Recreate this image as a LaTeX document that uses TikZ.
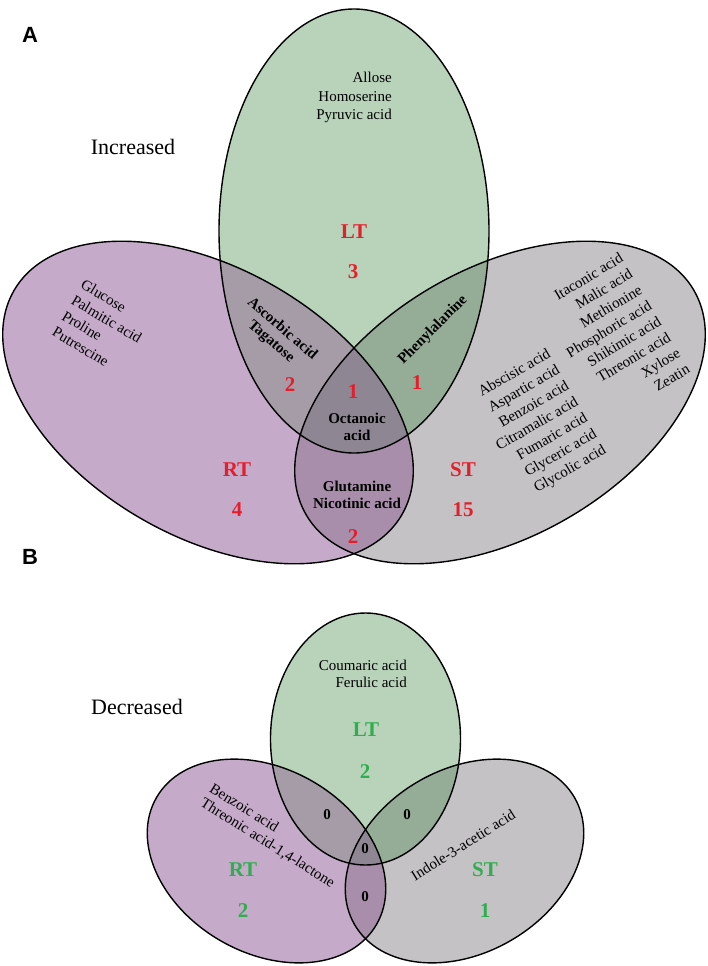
\documentclass[tikz,border=0pt]{standalone}
\usepackage{fontspec}
\setmainfont{Liberation Serif}
\setsansfont{Liberation Sans}

\definecolor{ltfill}{HTML}{B8D3BA}
\definecolor{rtfill}{HTML}{C6AACA}
\definecolor{stfill}{HTML}{C4C2C4}
\definecolor{ltrtfill}{HTML}{A69CA8}
\definecolor{ltstfill}{HTML}{95AD97}
\definecolor{rtstfill}{HTML}{A88EAA}
\definecolor{allfill}{HTML}{8E8692}
\definecolor{upred}{HTML}{E41E2B}
\definecolor{downgreen}{HTML}{2EAE4E}

\tikzset{
  outline/.style={draw=black, line width=1.4pt},
  rtAturn/.style={rotate around={-30:(208,402.5)}},
  stAturn/.style={rotate around={30:(500,402.5)}},
  rtBturn/.style={rotate around={-30:(266.5,861)}},
  stBturn/.style={rotate around={30:(464.5,861)}},
  panel/.style={font=\fontsize{22}{24}\selectfont\sffamily\bfseries, inner sep=0pt},
  trend/.style={font=\fontsize{22}{24}\selectfont, inner sep=0pt},
  cmpd/.style={font=\fontsize{15}{18.5}\selectfont, inner sep=0pt},
  cmpdb/.style={font=\fontsize{15}{17}\selectfont\bfseries, inner sep=0pt, align=center},
  upset/.style={font=\fontsize{21}{24}\selectfont\bfseries, text=upred, inner sep=0pt},
  downset/.style={font=\fontsize{21}{24}\selectfont\bfseries, text=downgreen, inner sep=0pt},
  zero/.style={font=\fontsize{15}{17}\selectfont\bfseries, inner sep=0pt}
}

\begin{document}
\begin{tikzpicture}[x=1pt,y=-1pt]
\useasboundingbox[fill=white] (0,0) rectangle (708,966);

% A: increased
\fill[ltfill] (354,231) ellipse (135pt and 222pt);
\fill[rtfill, rtAturn] (208,402.5) ellipse (224pt and 134pt);
\fill[stfill, stAturn] (500,402.5) ellipse (224pt and 134pt);
\begin{scope}
  \clip[rtAturn] (208,402.5) ellipse (224pt and 134pt);
  \fill[ltrtfill] (354,231) ellipse (135pt and 222pt);
  \fill[rtstfill, stAturn] (500,402.5) ellipse (224pt and 134pt);
\end{scope}
\begin{scope}
  \clip (354,231) ellipse (135pt and 222pt);
  \fill[ltstfill, stAturn] (500,402.5) ellipse (224pt and 134pt);
\end{scope}
\begin{scope}
  \clip[rtAturn] (208,402.5) ellipse (224pt and 134pt);
  \clip (354,231) ellipse (135pt and 222pt);
  \fill[allfill, stAturn] (500,402.5) ellipse (224pt and 134pt);
\end{scope}
\draw[outline] (354,231) ellipse (135pt and 222pt);
\draw[outline, rtAturn] (208,402.5) ellipse (224pt and 134pt);
\draw[outline, stAturn] (500,402.5) ellipse (224pt and 134pt);

\node[panel] (labA) at (30,35) {A};
\node[trend] (incr) at (133,147) {Increased};
\node[cmpd, anchor=east, align=right] (ltAonly) at (392,97.5) {Allose\\Homoserine\\Pyruvic acid};
\node[upset] (ltAname) at (354,232) {LT};
\node[upset] (ltAnum) at (353,272) {3};
\node[cmpd, align=left, rotate=-31] (rtAonly) at (102,327) {Glucose\\Palmitic acid\\Proline\\Putrescine};
\node[upset] (rtAname) at (237,470) {RT};
\node[upset] (rtAnum) at (237,510) {4};
\node[cmpdb, rotate=-41] (ltrtA) at (276.5,335.5) {Ascorbic acid\\Tagatose};
\node[upset] (ltrtAnum) at (290,385) {2};
\node[cmpdb, rotate=45] (ltstA) at (433,330) {Phenylalanine};
\node[upset] (ltstAnum) at (417,383) {1};
\node[upset] (allAnum) at (353,392) {1};
\node[cmpdb] (allA) at (357,426.5) {Octanoic\\acid};
\node[cmpdb] (rtstA) at (357,495) {Glutamine\\Nicotinic acid};
\node[upset] (rtstAnum) at (353,537) {2};
\node[upset] (stAname) at (463,470) {ST};
\node[upset] (stAnum) at (463,510) {15};
\node[cmpd, anchor=east, align=right, rotate=31] (stAonly) at (655,312) {Itaconic acid\\Malic acid\\Methionine\\Phosphoric acid\\Shikimic acid\\Threonic acid\\Xylose\\Zeatin};
\node[cmpd, anchor=east, align=right, rotate=30] (stAmore) at (577.5,401.5) {Abscisic acid\\Aspartic acid\\Benzoic acid\\Citramalic acid\\Fumaric acid\\Glyceric acid\\Glycolic acid};

% B: decreased
\fill[ltfill] (365.5,739) ellipse (95pt and 126pt);
\fill[rtfill, rtBturn] (266.5,861) ellipse (127pt and 92pt);
\fill[stfill, stBturn] (464.5,861) ellipse (127pt and 92pt);
\begin{scope}
  \clip[rtBturn] (266.5,861) ellipse (127pt and 92pt);
  \fill[ltrtfill] (365.5,739) ellipse (95pt and 126pt);
  \fill[rtstfill, stBturn] (464.5,861) ellipse (127pt and 92pt);
\end{scope}
\begin{scope}
  \clip (365.5,739) ellipse (95pt and 126pt);
  \fill[ltstfill, stBturn] (464.5,861) ellipse (127pt and 92pt);
\end{scope}
\begin{scope}
  \clip[rtBturn] (266.5,861) ellipse (127pt and 92pt);
  \clip (365.5,739) ellipse (95pt and 126pt);
  \fill[allfill, stBturn] (464.5,861) ellipse (127pt and 92pt);
\end{scope}
\draw[outline] (365.5,739) ellipse (95pt and 126pt);
\draw[outline, rtBturn] (266.5,861) ellipse (127pt and 92pt);
\draw[outline, stBturn] (464.5,861) ellipse (127pt and 92pt);

\node[panel] (labB) at (30,557) {B};
\node[trend] (decr) at (137,707) {Decreased};
\node[cmpd, anchor=east, align=right, font=\fontsize{15}{17}\selectfont] (ltBonly) at (407,673.5) {Coumaric acid\\Ferulic acid};
\node[downset] (ltBname) at (366,730) {LT};
\node[downset] (ltBnum) at (365,772) {2};
\node[cmpd, align=left, rotate=-32, font=\fontsize{15}{17}\selectfont] (rtBonly) at (272,836) {Benzoic acid\\Threonic acid-1,4-lactone};
\node[downset] (rtBname) at (243,870) {RT};
\node[downset] (rtBnum) at (243,911) {2};
\node[cmpd, rotate=32] (stBonly) at (463,845) {Indole-3-acetic acid};
\node[downset] (stBname) at (485,870) {ST};
\node[downset] (stBnum) at (485,911) {1};
\node[zero] (ltrtB) at (327,815) {0};
\node[zero] (ltstB) at (407,815) {0};
\node[zero] (allB) at (365,849) {0};
\node[zero] (rtstB) at (365,897) {0};
\end{tikzpicture}
\end{document}
